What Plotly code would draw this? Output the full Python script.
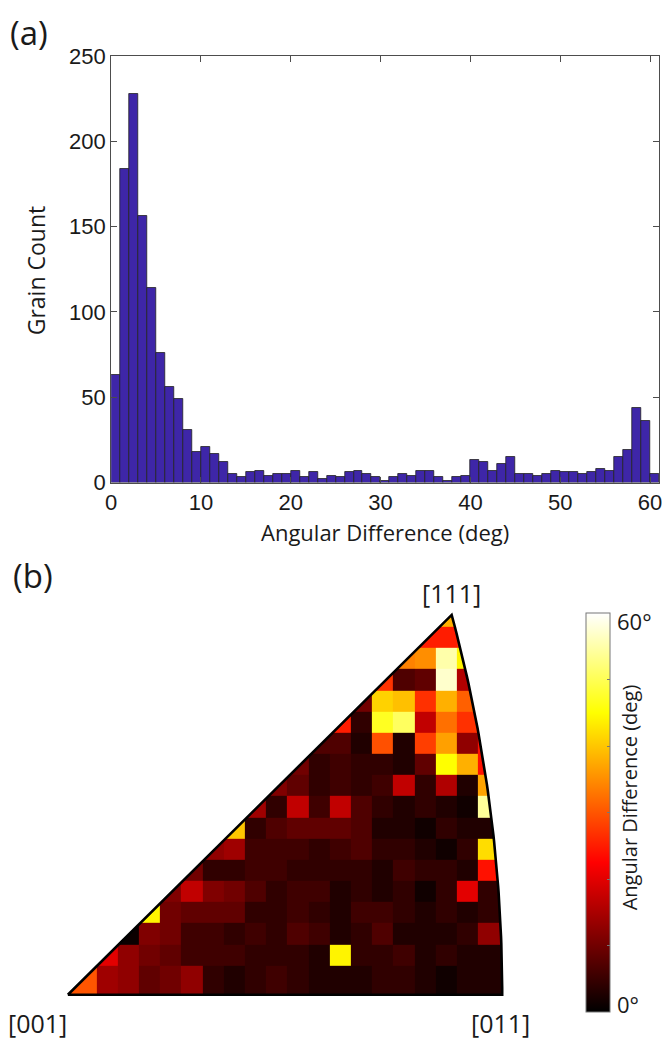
import math
import plotly.graph_objects as go

# ---------------- (a) histogram data ----------------
BIN_LEFT_DEG = list(range(0, 61))          # 1-degree bins, 0..61 deg
GRAIN_COUNT = [63, 184, 228, 156, 114, 76, 56, 49, 31, 18,
               21, 17, 12, 5, 3, 6, 7, 4, 5, 5,
               7, 3, 6, 2, 4, 3, 6, 7, 5, 3,
               1, 3, 5, 4, 7, 7, 3, 1, 3, 4,
               13, 12, 7, 11, 15, 5, 5, 4, 5, 7,
               6, 6, 5, 6, 8, 7, 15, 19, 44, 36, 5]
HIST_X_TICKS = [0, 10, 20, 30, 40, 50, 60]
HIST_Y_TICKS = [0, 50, 100, 150, 200, 250]

# ---------------- (b) inverse pole figure data ----------------
N = None
# mean angular difference (deg) per cell, rows from top ([111] end) to bottom
ANG_DIFF_ROWS = [
    [N]*17 + [38, N, N],
    [N]*16 + [25, 25, 26, N],
    [N]*15 + [34, 35, 55, 44, N],
    [N]*14 + [27, 7, 8.5, 57, 15.5, N],
    [N]*13 + [10, 41, 39.4, 26.7, 38, 31, N],
    [N]*12 + [25, 4.2, 47, 50.6, 17, 32.4, 26.7, 27],
    [N]*11 + [7, 7, 2.8, 29.6, 2.8, 28, 36.6, 12.7, 24],
    [N]*10 + [10, 4.2, 5.6, 4.2, 4.2, 2.8, 8.5, 45, 38, 24],
    [N]*9 + [11.3, 8.5, 4.2, 5.6, 4.2, 5.6, 17, 4.2, 15.5, 2.8, 37],
    [N]*8 + [14, 4.2, 17, 5.6, 17, 7, 4.2, 2.8, 4.2, 2.8, 1.4, 54],
    [N]*7 + [40, 4.2, 7, 8.5, 8.5, 8.5, 7, 2.8, 2.8, 1.4, 4.2, 2.8, 2.8],
    [N]*6 + [12.7, 14, 5.6, 5.6, 5.6, 4.2, 5.6, 7, 4.2, 4.2, 2.8, 1.4, 4.2, 42],
    [N]*5 + [10, 4.2, 4.2, 5.6, 5.6, 4.2, 4.2, 4.2, 4.2, 2.8, 5.6, 4.2, 4.2, 2.8, 24],
    [N]*4 + [11.3, 17, 11.3, 10, 7, 4.2, 5.6, 5.6, 2.8, 4.2, 2.8, 4.2, 1.4, 4.2, 20, 4.2],
    [N]*3 + [44, 10, 8.5, 8.5, 8.5, 4.2, 4.2, 5.6, 4.2, 2.8, 5.6, 5.6, 4.2, 2.8, 4.2, 2.8, 4.2],
    [N]*2 + [1, 11.3, 10, 5.6, 5.6, 4.2, 5.6, 4.2, 7, 5.6, 2.8, 4.2, 7, 2.8, 2.8, 2.8, 4.2, 12.7],
    [N] + [20, 12.7, 10, 8.5, 5.6, 5.6, 5.6, 4.2, 4.2, 4.2, 2.8, 44, 4.2, 4.2, 5.6, 2.8, 4.2, 2.8, 2.8],
    [30, 14, 12.7, 8.5, 9.9, 12.7, 4.2, 2.8, 4.2, 5.6, 4.2, 2.8, 2.8, 2.8, 4.2, 4.2, 2.8, 1.4, 2.8, 2.8],
]
CBAR_TICKS = [0, 10, 20, 30, 40, 50, 60]
CBAR_LABELS = ["0°", "60°"]
POLE_LABELS = ["[001]", "[011]", "[111]"]

# ---------------- geometry / style constants ----------------
W, H = 665, 1050
BAR_COLOR = "#3E26A8"
AX_COLOR = "#4d4d4d"
TXT = "#1a1a1a"
NUM_FONT = "Liberation Sans Narrow, Arial Narrow, Liberation Sans, sans-serif"
LAB_FONT = "Open Sans, Lato, sans-serif"

HOT = [[0.0, "rgb(0,0,0)"], [0.375, "rgb(255,0,0)"],
       [0.75, "rgb(255,255,0)"], [1.0, "rgb(255,255,255)"]]

# panel (a) pixel box
A_L, A_R, A_T, A_B = 106.6, 662.0, 45.0, 482.0
# panel (b) stereographic mapping (pixels per unit, origin = [001])
SCALE = 1063.0
OX, OY = 62.7, 1006.7
B_L, B_R, B_T, B_B = 20.0, 560.0, 585.0, 1045.0

# grid of cells in projection units
H_FIRST, H_PITCH = 0.0273, 0.02021
V_FIRST, V_PITCH = 0.0282, 0.02039
n_rows = len(ANG_DIFF_ROWS)
n_cols = len(ANG_DIFF_ROWS[0])
h_edges = [0.0] + [H_FIRST + k * H_PITCH for k in range(n_cols - 1)] + [0.44]
v_edges = [0.0] + [V_FIRST + k * V_PITCH for k in range(n_rows)]
z = list(reversed(ANG_DIFF_ROWS))  # bottom row first

# stereographic poles
p001 = (0.0, 0.0)
p011 = (1.0 / (1.0 + math.sqrt(2.0)), 0.0)
p111 = (1.0 / (1.0 + math.sqrt(3.0)), 1.0 / (1.0 + math.sqrt(3.0)))
# great circle through [011] and [111]: centre (-1, 0), radius sqrt(2)
R = math.sqrt(2.0)
th_max = math.asin(p111[1] / R)
arc = [(-1 + R * math.cos(th_max * i / 60), R * math.sin(th_max * i / 60)) for i in range(61)]

fig = go.Figure()

# ---- (a) histogram ----
fig.add_trace(go.Bar(
    x=[b + 0.5 for b in BIN_LEFT_DEG], y=GRAIN_COUNT, width=1,
    marker=dict(color=BAR_COLOR, line=dict(color="#222222", width=0.8)),
    xaxis="x", yaxis="y", hoverinfo="skip"))

# ---- (b) IPF heatmap ----
fig.add_trace(go.Heatmap(
    x=h_edges, y=v_edges, z=z, zmin=0, zmax=60, colorscale=HOT,
    xaxis="x2", yaxis="y2", hoverinfo="skip",
    colorbar=dict(x=588 / W, xanchor="left", y=1 - 616 / H, yanchor="top",
                  len=409 / H, lenmode="fraction", thickness=24, thicknessmode="pixels",
                  outlinewidth=1, outlinecolor="#777777", xpad=0, ypad=0,
                  tickvals=CBAR_TICKS, ticks="inside", ticklen=3, tickcolor="#777777",
                  showticklabels=False)))

# white masks outside the triangle
big = 0.6
fig.add_trace(go.Scatter(
    x=[p001[0], big, -big, -big, p001[0]], y=[p001[1], big, big, p001[1], p001[1]],
    fill="toself", fillcolor="white", mode="none", xaxis="x2", yaxis="y2", hoverinfo="skip"))
mx = [p[0] for p in arc] + [p111[0], big, big, p011[0]]
my = [p[1] for p in arc] + [big, big, p011[1] - 0.05, p011[1] - 0.05]
fig.add_trace(go.Scatter(x=mx, y=my, fill="toself", fillcolor="white", mode="none",
                         xaxis="x2", yaxis="y2", hoverinfo="skip"))
fig.add_trace(go.Scatter(
    x=[p001[0], -big, -big, big, big, p001[0]], y=[p001[1], p001[1], -big, -big, p001[1], p001[1]],
    fill="toself", fillcolor="white", mode="none", xaxis="x2", yaxis="y2", hoverinfo="skip"))

# triangle outline
ox = [p001[0]] + [p[0] for p in arc] + [p001[0]]
oy = [p001[1]] + [p[1] for p in arc] + [p001[1]]
fig.add_trace(go.Scatter(x=ox, y=oy, mode="lines", line=dict(color="black", width=2.6),
                         xaxis="x2", yaxis="y2", hoverinfo="skip"))

axis_common = dict(showline=True, linecolor=AX_COLOR, linewidth=1, mirror="ticks",
                   ticks="inside", ticklen=6, tickcolor=AX_COLOR, showgrid=False,
                   zeroline=False, ticklabeloverflow="allow",
                   tickfont=dict(family=NUM_FONT, size=22, color=TXT))

fig.update_layout(
    width=W, height=H, margin=dict(l=0, r=0, t=0, b=0),
    paper_bgcolor="white", plot_bgcolor="white", showlegend=False, bargap=0,
    xaxis=dict(domain=[A_L / W, A_R / W], range=[0, 61], tickvals=HIST_X_TICKS, **axis_common),
    yaxis=dict(domain=[1 - A_B / H, 1 - A_T / H], range=[0, 250], tickvals=HIST_Y_TICKS, **axis_common),
    xaxis2=dict(domain=[B_L / W, B_R / W], range=[(B_L - OX) / SCALE, (B_R - OX) / SCALE],
                visible=False, anchor="y2"),
    yaxis2=dict(domain=[1 - B_B / H, 1 - B_T / H], range=[(OY - B_B) / SCALE, (OY - B_T) / SCALE],
                visible=False, anchor="x2"),
)

ann = []
def lab(text, x, y, size, family=LAB_FONT, angle=0, xanchor="center", **kw):
    ann.append(dict(text=text, x=x, y=y, xref=kw.get("xref", "paper"), yref=kw.get("yref", "paper"),
                    showarrow=False, textangle=angle, xanchor=xanchor, yanchor="middle",
                    xshift=kw.get("xshift", 0), yshift=kw.get("yshift", 0),
                    font=dict(family=family, size=size, color=TXT)))

lab("(a)", 23 / W, 1 - 21 / H, 33)
lab("(b)", 27 / W, 1 - 577 / H, 33)
lab("Grain Count", 30 / W, 1 - 265 / H, 23, angle=-90)
lab("Angular Difference (deg)", (A_L + A_R) / 2 / W, 1 - 533 / H, 22)
# pole labels attached to the triangle corners
lab(POLE_LABELS[0], p001[0], p001[1], 25, xref="x2", yref="y2", xshift=-30, yshift=-28)
lab(POLE_LABELS[1], p011[0], p011[1], 25, xref="x2", yref="y2", xshift=-2, yshift=-28)
lab(POLE_LABELS[2], p111[0], p111[1], 25, xref="x2", yref="y2", xshift=0, yshift=22)
# colorbar labels
lab(CBAR_LABELS[1], 617 / W, 1 - 624 / H, 22, xanchor="left")
lab(CBAR_LABELS[0], 617 / W, 1 - 1016 / H, 22, xanchor="left")
lab("Angular Difference (deg)", 632 / W, 1 - 804 / H, 20, angle=-90)
fig.update_layout(annotations=ann)

fig.write_html("out.html")
